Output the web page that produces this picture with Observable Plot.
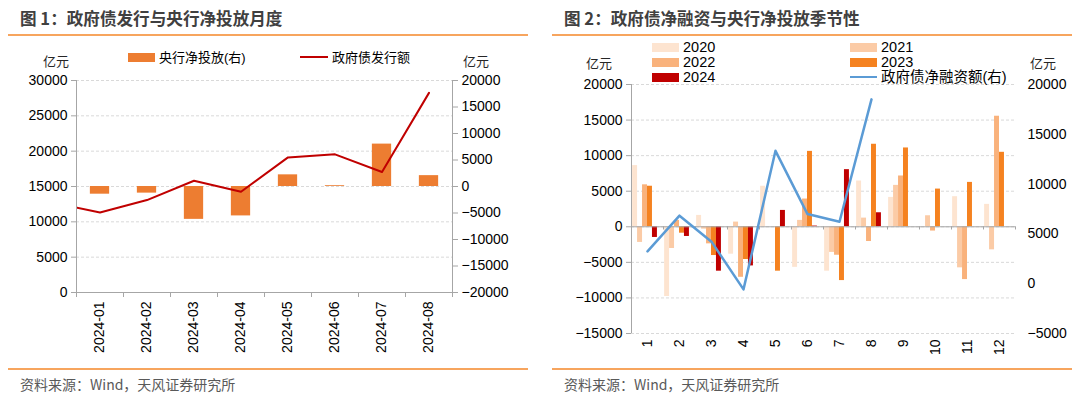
<!DOCTYPE html>
<html><head><meta charset="utf-8">
<script src="https://cdn.jsdelivr.net/npm/d3@7"></script>
<script src="https://cdn.jsdelivr.net/npm/@observablehq/plot@0.6"></script>
<style>
body{margin:0;background:#fff;}
#root{position:relative;width:1080px;height:398px;overflow:hidden;font-family:"Liberation Sans","Noto Sans CJK SC",sans-serif;}
.abs{position:absolute;white-space:nowrap;line-height:1;}
.title{font-family:"Noto Sans CJK SC",sans-serif;font-weight:bold;font-size:16.6px;color:#404040;}
.src{font-family:"Noto Sans CJK SC",sans-serif;font-size:14px;color:#595959;}
.hr{position:absolute;height:2px;background:#f7a55e;}
.unit{font-family:"Noto Sans CJK SC",sans-serif;font-size:13px;color:#262626;}
.leg{font-family:"Liberation Sans","Noto Sans CJK SC",sans-serif;font-size:13px;color:#000;}
.leg2{font-family:"Liberation Sans","Noto Sans CJK SC",sans-serif;font-size:14.5px;color:#000;}
.sw{position:absolute;}
svg{position:absolute;top:0;}
</style>
</head><body>
<div id="root"></div>
<script>
// ---------- Chart 1 data ----------
const months1 = ["2024-01","2024-02","2024-03","2024-04","2024-05","2024-06","2024-07","2024-08"];
const pbocNet = [-1450, -1250, -6200, -5550, 2200, 150, 8000, 2050];        // 央行净投放(右)
const govIssue = [11320, 13080, 15820, 14260, 19120, 19550, 17050, 28250];  // 政府债发行额
const govIssuePrev = 12700; // 2023-12 (partly visible leading segment)
const leftTicks1 = [0, 5000, 10000, 15000, 20000, 25000, 30000];
const rightTicks1 = [-20000, -15000, -10000, -5000, 0, 5000, 10000, 15000, 20000];

// ---------- Chart 2 data ----------
const months2 = [1,2,3,4,5,6,7,8,9,10,11,12];
const years = ["2020","2021","2022","2023","2024"];
const y2020 = [8600, -9800, 1600, -3850, 5700, -5700, -6240, 6430, 4130, 0, 4230, 3150];
const y2021 = [-2200, -3050, -330, 660, 0, 900, -3600, 1220, 5820, 1550, -5770, -3240];
const y2022 = [5900, 900, -2400, -7100, 0, 3900, -4000, -2070, 7140, -600, -7420, 15540];
const y2023 = [5700, -900, -4040, -4600, -6240, 10600, -7560, 11600, 11080, 5300, 6240, 10470];
const y2024 = [-1500, -1360, -6240, -5500, 2300, 100, 8030, 1970];
const govNet = [3240, 6830, 4220, -570, 13340, 6990, 6220, 18510]; // 政府债净融资额(右)
const leftTicks2 = [-15000, -10000, -5000, 0, 5000, 10000, 15000, 20000];
const rightTicks2 = [-5000, 0, 5000, 10000, 15000, 20000];
const yearColors = ["#fde4d0", "#fbcba6", "#f9b27c", "#f58220", "#c00000"];

const fmt = d => d < 0 ? "\u2212" + Math.abs(d) : String(d);
const root = document.getElementById("root");

function txt(s, x, y, cls, anchor) {
  const e = document.createElement("div");
  e.className = "abs " + cls;
  e.textContent = s;
  e.style.left = x + "px";
  e.style.top = y + "px";
  e.style.transform = anchor === "middle" ? "translate(-50%,-50%)" : "translate(0,-50%)";
  root.appendChild(e);
}
function box(x, y, w, h, color, cls) {
  const e = document.createElement("div");
  e.className = cls || "sw";
  e.style.cssText += `left:${x}px;top:${y}px;width:${w}px;height:${h}px;background:${color};`;
  root.appendChild(e);
}

// ---------- Chart 1 ----------
const toLeft1 = r => 15000 + r * 0.75;
const bars1 = months1.map((m, i) => ({i: i + 1, v: pbocNet[i]}));
const line1 = [{i: 0, v: govIssuePrev}, ...months1.map((m, i) => ({i: i + 1, v: govIssue[i]}))];
const axisGray = "#a6a6a6";
const baseStyle = {fontFamily: "Liberation Sans, Arial, sans-serif", fontSize: "14px", color: "#000", background: "transparent", overflow: "visible"};

const p1 = Plot.plot({
  width: 540, height: 398,
  marginTop: 80, marginBottom: 106, marginLeft: 76, marginRight: 88,
  x: {domain: [0.5, 8.5]},
  y: {domain: [0, 30000]},
  style: baseStyle,
  marks: [
    Plot.gridY(leftTicks1.slice(1), {stroke: "#d9d9d9", strokeOpacity: 1, strokeDasharray: "3,2"}),
    Plot.rectY(bars1, {x1: d => d.i - 0.205, x2: d => d.i + 0.205, y1: () => toLeft1(0), y2: d => toLeft1(d.v), fill: "#ed7d31"}),
    Plot.line(line1, {x: "i", y: "v", stroke: "#c00000", strokeWidth: 2, clip: true}),
    Plot.ruleX([0.5, 8.5], {stroke: axisGray}),
    Plot.ruleY([0], {stroke: axisGray}),
    Plot.axisY(leftTicks1, {anchor: "left", tickSize: 5, tickPadding: 4, stroke: axisGray, tickFormat: d => String(d), label: null}),
    Plot.axisY(rightTicks1.map(toLeft1), {anchor: "right", tickSize: 5, tickPadding: 4, stroke: axisGray, tickFormat: d => fmt(Math.round((d - 15000) / 0.75)), label: null}),
    Plot.axisX([0.5,1.5,2.5,3.5,4.5,5.5,6.5,7.5,8.5], {anchor: "bottom", tickSize: 5, stroke: axisGray, tickFormat: () => "", label: null}),
    Plot.axisX(bars1.map(d => d.i), {anchor: "bottom", tickSize: 0, tickPadding: 9, tickRotate: -90, tickFormat: i => months1[i - 1], label: null})
  ]
});
p1.style.left = "0px";
root.appendChild(p1);

// ---------- Chart 2 ----------
const toLeft2 = r => -15000 + (r + 5000) * 1.4;
const series = [y2020, y2021, y2022, y2023, y2024];
const bars2 = [];
years.forEach((y, k) => series[k].forEach((v, j) => bars2.push({m: j + 1, k, year: y, v})));
const line2 = govNet.map((v, j) => ({m: j + 1, v}));
const bw = 0.155, off = 0.035;

const p2 = Plot.plot({
  width: 540, height: 398,
  marginTop: 84, marginBottom: 65, marginLeft: 91, marginRight: 65,
  x: {domain: [0.5, 12.5]},
  y: {domain: [-15000, 20000]},
  color: {domain: years, range: yearColors},
  style: baseStyle,
  marks: [
    Plot.gridY(leftTicks2, {stroke: "#d9d9d9", strokeOpacity: 1, strokeDasharray: "3,2"}),
    Plot.rectY(bars2, {x1: d => d.m - 0.5 + off + d.k * bw, x2: d => d.m - 0.5 + off + (d.k + 1) * bw, y1: 0, y2: "v", fill: "year"}),
    Plot.ruleY([0], {stroke: axisGray}),
    Plot.ruleX([0.5,1.5,2.5,3.5,4.5,5.5,6.5,7.5,8.5,9.5,10.5,11.5,12.5], {y1: 0, y2: -450, stroke: axisGray}),
    Plot.line(line2, {x: "m", y: d => toLeft2(d.v), stroke: "#5b9bd5", strokeWidth: 2.5}),
    Plot.ruleX([0.5], {stroke: axisGray}),
    Plot.axisY(leftTicks2, {anchor: "left", tickSize: 5, tickPadding: 4, stroke: axisGray, tickFormat: fmt, label: null}),
    Plot.axisY(rightTicks2.map(toLeft2), {anchor: "right", tickSize: 0, tickPadding: 12, tickFormat: d => fmt(Math.round((d + 15000) / 1.4 - 5000)), label: null}),
    Plot.axisX(months2, {anchor: "bottom", tickSize: 0, tickPadding: 6, tickRotate: -90, label: null})
  ]
});
p2.style.left = "540px";
root.appendChild(p2);

// ---------- Text, legends, rules ----------
txt("图 1：政府债发行与央行净投放月度", 20, 18, "title");
box(8, 34, 520, 2, "#f7a55e", "hr");
box(8, 368, 520, 2, "#f7a55e", "hr");
txt("资料来源：Wind，天风证券研究所", 20, 384, "src");
txt("亿元", 56, 60, "unit", "middle");
txt("亿元", 463, 60, "unit");
box(128, 53, 27, 9, "#ed7d31");
txt("央行净投放(右)", 159, 57, "leg");
box(300, 56, 28, 2, "#c00000");
txt("政府债发行额", 332, 57, "leg");

txt("图 2：政府债净融资与央行净投放季节性", 564, 18, "title");
box(552, 34, 520, 2, "#f7a55e", "hr");
box(552, 368, 520, 2, "#f7a55e", "hr");
txt("资料来源：Wind，天风证券研究所", 564, 384, "src");
txt("亿元", 599, 62, "unit", "middle");
txt("亿元", 1030, 62, "unit");
const legPos = [[652, 47], [850, 47], [652, 62], [850, 62], [652, 77]];
years.forEach((y, k) => {
  const [x, yy] = legPos[k];
  box(x, yy - 4.5, 27, 9, yearColors[k]);
  txt(y, x + 31, yy, "leg2");
});
box(850, 76, 27, 2, "#5b9bd5");
txt("政府债净融资额(右)", 881, 77, "leg2");
</script>
</body></html>
